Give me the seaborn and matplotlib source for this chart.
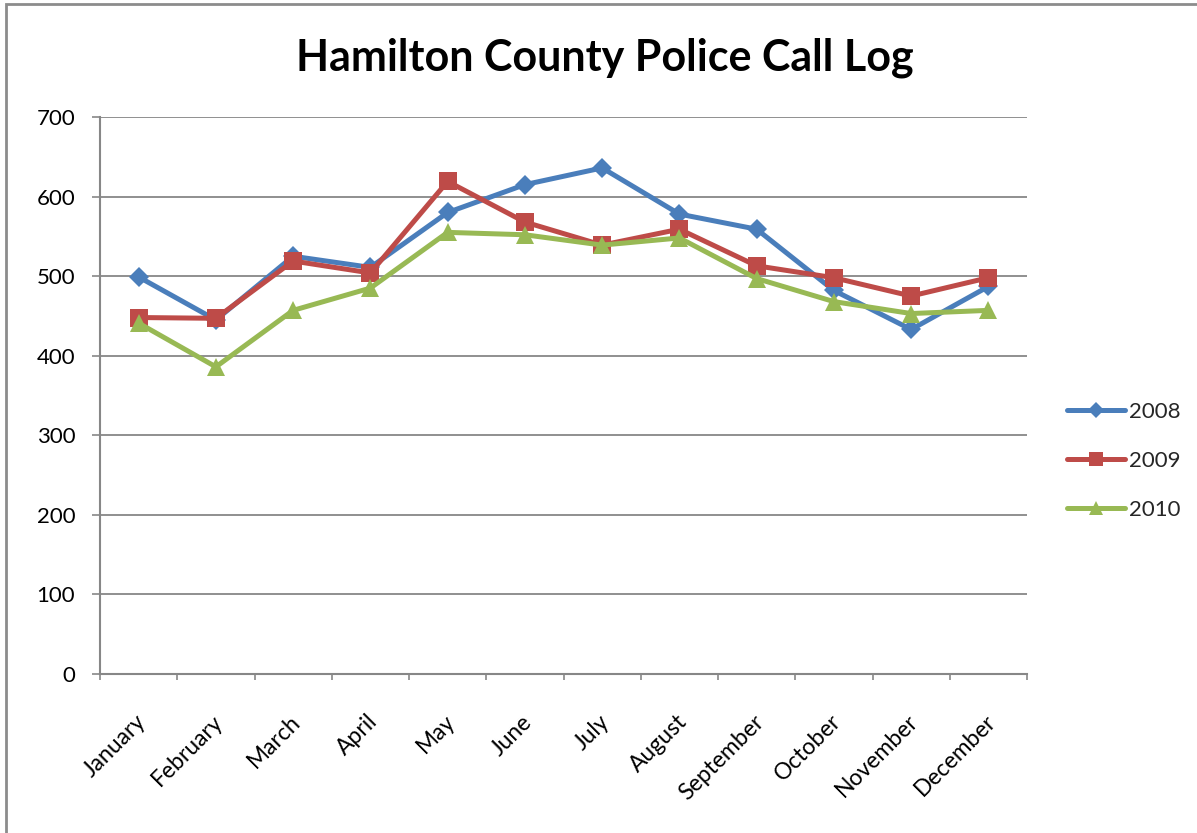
import numpy as np
import pandas as pd
import matplotlib
matplotlib.use("Agg")
import matplotlib.pyplot as plt
import matplotlib.transforms as mtransforms
from matplotlib.patches import Rectangle
from matplotlib.ticker import FixedLocator
import seaborn as sns

# Monthly call counts by year
months = ["January", "February", "March", "April", "May", "June",
          "July", "August", "September", "October", "November", "December"]
years = ["2008", "2009", "2010"]
calls_2008 = [499, 445, 525, 511, 580, 615, 636, 578, 559, 482, 433, 487]
calls_2009 = [448, 447, 519, 504, 619, 568, 539, 559, 513, 498, 475, 498]
calls_2010 = [441, 386, 457, 485, 555, 552, 539, 548, 497, 468, 453, 457]
y_ticks = [0, 100, 200, 300, 400, 500, 600, 700]

df = pd.DataFrame({
    "Month": months * 3,
    "Year": np.repeat(years, len(months)),
    "Calls": calls_2008 + calls_2009 + calls_2010,
})

sns.set_theme(style="white")
plt.rcParams["font.family"] = ["Lato", "DejaVu Sans"]

GRAY = "#878787"
W, H = 1197, 833
fig = plt.figure(figsize=(W / 100, H / 100), dpi=100)
ax = fig.add_axes([100 / W, 1 - 674 / H, 927 / W, 557 / H])

styles = {
    "2008": dict(color="#4A7EBB", marker="D", markersize=10.5),
    "2009": dict(color="#BE4B48", marker="s", markersize=13.5),
    "2010": dict(color="#98B954", marker="^", markersize=13.5),
}

for year in years:
    sub = df[df["Year"] == year]
    st = styles[year]
    sns.lineplot(data=sub, x="Month", y="Calls", ax=ax, sort=False,
                 color=st["color"], marker=st["marker"],
                 markersize=st["markersize"], markeredgewidth=0,
                 linewidth=3.6, label=year, zorder=3)

# Axes styling
ax.set_xlim(-0.5, len(months) - 0.5)
ax.set_ylim(0, 700)
ax.set_xlabel("")
ax.set_ylabel("")
ax.yaxis.set_major_locator(FixedLocator(y_ticks))
ax.set_yticklabels([str(v) for v in y_ticks])
ax.grid(axis="y", color=GRAY, linewidth=1.3, zorder=0)
ax.grid(axis="x", visible=False)
for side in ["top", "right"]:
    ax.spines[side].set_visible(False)
for side in ["left", "bottom"]:
    ax.spines[side].set_color(GRAY)
    ax.spines[side].set_linewidth(1.5)

ax.tick_params(axis="y", which="major", direction="out", length=5.8,
               width=1.2, color=GRAY, pad=12, labelsize=16, labelcolor="black",
               left=True)
ax.xaxis.set_major_locator(FixedLocator(np.arange(len(months))))
ax.set_xticklabels(months)
ax.xaxis.set_minor_locator(FixedLocator(np.arange(len(months) + 1) - 0.5))
ax.tick_params(axis="x", which="major", length=0, pad=32, labelsize=16.5,
               labelcolor="black", bottom=True)
ax.tick_params(axis="x", which="minor", direction="out", length=4.3,
               width=1.2, color=GRAY, bottom=True)
shift = mtransforms.ScaledTranslation(4 / 100, 0, fig.dpi_scale_trans)
for lab in ax.get_xticklabels():
    lab.set_rotation(45)
    lab.set_ha("right")
    lab.set_va("center")
    lab.set_rotation_mode("anchor")
    lab.set_transform(lab.get_transform() + shift)

# Legend
leg = ax.legend(loc="center left", bbox_to_anchor=(1047 / W, 1 - 461 / H),
                bbox_transform=fig.transFigure, frameon=False, fontsize=16,
                handlelength=2.6, handletextpad=0.2, labelspacing=1.3,
                markerscale=0.75)

# Title
fig.text(605 / W, 1 - 70 / H, "Hamilton County Police Call Log",
         ha="center", va="baseline", fontsize=31, fontweight="bold",
         color="black")

# Chart border
fig.patches.append(Rectangle((5.5 / W, -0.1), 1.2, 1 - 4.5 / H + 0.1,
                             transform=fig.transFigure, fill=False,
                             edgecolor="#8C8C8C", linewidth=2))

fig.savefig("out.png", dpi=100)
